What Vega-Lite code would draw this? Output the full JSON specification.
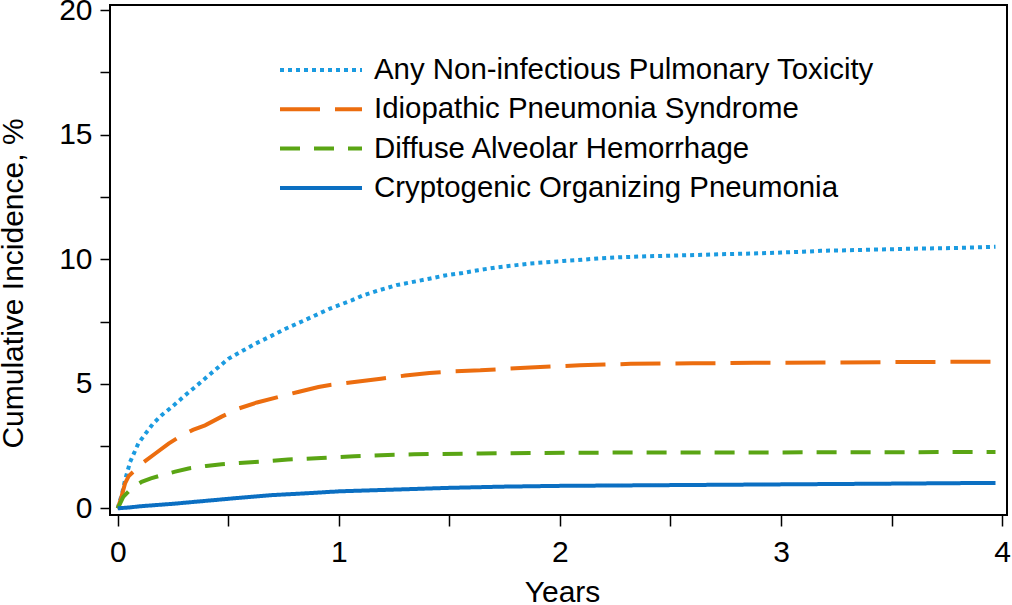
{
  "$schema": "https://vega.github.io/schema/vega-lite/v6.json",
  "width": 897,
  "height": 510,
  "autosize": {"type": "none"},
  "padding": {"left": 110, "top": 5, "right": 5, "bottom": 90},
  "background": "white",
  "config": {
    "font": "Liberation Sans",
    "view": {"stroke": "black", "strokeWidth": 2},
    "axis": {"grid": false, "domain": false, "tickColor": "black", "tickWidth": 1.5, "labelColor": "black", "titleColor": "black", "labelFontSize": 30, "titleFontSize": 30, "titleFontWeight": "normal", "labelFont": "Liberation Sans", "titleFont": "Liberation Sans"}
  },
  "data": {"values": [
    {"t":0,"v":0,"s":"Any Non-infectious Pulmonary Toxicity"},
    {"t":0.02,"v":0.6,"s":"Any Non-infectious Pulmonary Toxicity"},
    {"t":0.033,"v":1.13,"s":"Any Non-infectious Pulmonary Toxicity"},
    {"t":0.056,"v":1.86,"s":"Any Non-infectious Pulmonary Toxicity"},
    {"t":0.093,"v":2.6,"s":"Any Non-infectious Pulmonary Toxicity"},
    {"t":0.13,"v":3.05,"s":"Any Non-infectious Pulmonary Toxicity"},
    {"t":0.16,"v":3.4,"s":"Any Non-infectious Pulmonary Toxicity"},
    {"t":0.2,"v":3.75,"s":"Any Non-infectious Pulmonary Toxicity"},
    {"t":0.245,"v":4.07,"s":"Any Non-infectious Pulmonary Toxicity"},
    {"t":0.3,"v":4.5,"s":"Any Non-infectious Pulmonary Toxicity"},
    {"t":0.35,"v":4.87,"s":"Any Non-infectious Pulmonary Toxicity"},
    {"t":0.42,"v":5.4,"s":"Any Non-infectious Pulmonary Toxicity"},
    {"t":0.5,"v":6.0,"s":"Any Non-infectious Pulmonary Toxicity"},
    {"t":0.56,"v":6.3,"s":"Any Non-infectious Pulmonary Toxicity"},
    {"t":0.62,"v":6.6,"s":"Any Non-infectious Pulmonary Toxicity"},
    {"t":0.69,"v":6.9,"s":"Any Non-infectious Pulmonary Toxicity"},
    {"t":0.757,"v":7.2,"s":"Any Non-infectious Pulmonary Toxicity"},
    {"t":0.82,"v":7.45,"s":"Any Non-infectious Pulmonary Toxicity"},
    {"t":0.877,"v":7.68,"s":"Any Non-infectious Pulmonary Toxicity"},
    {"t":0.96,"v":8.02,"s":"Any Non-infectious Pulmonary Toxicity"},
    {"t":1.058,"v":8.35,"s":"Any Non-infectious Pulmonary Toxicity"},
    {"t":1.11,"v":8.55,"s":"Any Non-infectious Pulmonary Toxicity"},
    {"t":1.18,"v":8.75,"s":"Any Non-infectious Pulmonary Toxicity"},
    {"t":1.26,"v":8.96,"s":"Any Non-infectious Pulmonary Toxicity"},
    {"t":1.33,"v":9.08,"s":"Any Non-infectious Pulmonary Toxicity"},
    {"t":1.41,"v":9.22,"s":"Any Non-infectious Pulmonary Toxicity"},
    {"t":1.48,"v":9.35,"s":"Any Non-infectious Pulmonary Toxicity"},
    {"t":1.56,"v":9.45,"s":"Any Non-infectious Pulmonary Toxicity"},
    {"t":1.63,"v":9.56,"s":"Any Non-infectious Pulmonary Toxicity"},
    {"t":1.71,"v":9.67,"s":"Any Non-infectious Pulmonary Toxicity"},
    {"t":1.79,"v":9.75,"s":"Any Non-infectious Pulmonary Toxicity"},
    {"t":1.865,"v":9.83,"s":"Any Non-infectious Pulmonary Toxicity"},
    {"t":1.94,"v":9.88,"s":"Any Non-infectious Pulmonary Toxicity"},
    {"t":2.015,"v":9.93,"s":"Any Non-infectious Pulmonary Toxicity"},
    {"t":2.1,"v":9.98,"s":"Any Non-infectious Pulmonary Toxicity"},
    {"t":2.17,"v":10.03,"s":"Any Non-infectious Pulmonary Toxicity"},
    {"t":2.27,"v":10.08,"s":"Any Non-infectious Pulmonary Toxicity"},
    {"t":2.4,"v":10.12,"s":"Any Non-infectious Pulmonary Toxicity"},
    {"t":2.57,"v":10.16,"s":"Any Non-infectious Pulmonary Toxicity"},
    {"t":2.72,"v":10.2,"s":"Any Non-infectious Pulmonary Toxicity"},
    {"t":2.877,"v":10.23,"s":"Any Non-infectious Pulmonary Toxicity"},
    {"t":3.0,"v":10.27,"s":"Any Non-infectious Pulmonary Toxicity"},
    {"t":3.1,"v":10.3,"s":"Any Non-infectious Pulmonary Toxicity"},
    {"t":3.18,"v":10.34,"s":"Any Non-infectious Pulmonary Toxicity"},
    {"t":3.3,"v":10.36,"s":"Any Non-infectious Pulmonary Toxicity"},
    {"t":3.48,"v":10.4,"s":"Any Non-infectious Pulmonary Toxicity"},
    {"t":3.63,"v":10.43,"s":"Any Non-infectious Pulmonary Toxicity"},
    {"t":3.78,"v":10.45,"s":"Any Non-infectious Pulmonary Toxicity"},
    {"t":3.97,"v":10.5,"s":"Any Non-infectious Pulmonary Toxicity"},
    {"t":0,"v":0,"s":"Idiopathic Pneumonia Syndrome"},
    {"t":0.015,"v":0.4,"s":"Idiopathic Pneumonia Syndrome"},
    {"t":0.033,"v":1.0,"s":"Idiopathic Pneumonia Syndrome"},
    {"t":0.05,"v":1.3,"s":"Idiopathic Pneumonia Syndrome"},
    {"t":0.07,"v":1.46,"s":"Idiopathic Pneumonia Syndrome"},
    {"t":0.11,"v":1.8,"s":"Idiopathic Pneumonia Syndrome"},
    {"t":0.17,"v":2.2,"s":"Idiopathic Pneumonia Syndrome"},
    {"t":0.23,"v":2.6,"s":"Idiopathic Pneumonia Syndrome"},
    {"t":0.29,"v":2.93,"s":"Idiopathic Pneumonia Syndrome"},
    {"t":0.34,"v":3.15,"s":"Idiopathic Pneumonia Syndrome"},
    {"t":0.395,"v":3.33,"s":"Idiopathic Pneumonia Syndrome"},
    {"t":0.47,"v":3.68,"s":"Idiopathic Pneumonia Syndrome"},
    {"t":0.545,"v":4.0,"s":"Idiopathic Pneumonia Syndrome"},
    {"t":0.63,"v":4.25,"s":"Idiopathic Pneumonia Syndrome"},
    {"t":0.727,"v":4.47,"s":"Idiopathic Pneumonia Syndrome"},
    {"t":0.82,"v":4.68,"s":"Idiopathic Pneumonia Syndrome"},
    {"t":0.908,"v":4.87,"s":"Idiopathic Pneumonia Syndrome"},
    {"t":0.96,"v":4.95,"s":"Idiopathic Pneumonia Syndrome"},
    {"t":1.07,"v":5.07,"s":"Idiopathic Pneumonia Syndrome"},
    {"t":1.19,"v":5.2,"s":"Idiopathic Pneumonia Syndrome"},
    {"t":1.3,"v":5.33,"s":"Idiopathic Pneumonia Syndrome"},
    {"t":1.41,"v":5.43,"s":"Idiopathic Pneumonia Syndrome"},
    {"t":1.52,"v":5.5,"s":"Idiopathic Pneumonia Syndrome"},
    {"t":1.64,"v":5.54,"s":"Idiopathic Pneumonia Syndrome"},
    {"t":1.75,"v":5.6,"s":"Idiopathic Pneumonia Syndrome"},
    {"t":1.865,"v":5.65,"s":"Idiopathic Pneumonia Syndrome"},
    {"t":1.98,"v":5.7,"s":"Idiopathic Pneumonia Syndrome"},
    {"t":2.09,"v":5.74,"s":"Idiopathic Pneumonia Syndrome"},
    {"t":2.2,"v":5.77,"s":"Idiopathic Pneumonia Syndrome"},
    {"t":2.32,"v":5.8,"s":"Idiopathic Pneumonia Syndrome"},
    {"t":2.6,"v":5.82,"s":"Idiopathic Pneumonia Syndrome"},
    {"t":2.877,"v":5.84,"s":"Idiopathic Pneumonia Syndrome"},
    {"t":3.2,"v":5.85,"s":"Idiopathic Pneumonia Syndrome"},
    {"t":3.5,"v":5.87,"s":"Idiopathic Pneumonia Syndrome"},
    {"t":3.75,"v":5.88,"s":"Idiopathic Pneumonia Syndrome"},
    {"t":3.97,"v":5.89,"s":"Idiopathic Pneumonia Syndrome"},
    {"t":0,"v":0,"s":"Diffuse Alveolar Hemorrhage"},
    {"t":0.025,"v":0.46,"s":"Diffuse Alveolar Hemorrhage"},
    {"t":0.063,"v":0.8,"s":"Diffuse Alveolar Hemorrhage"},
    {"t":0.108,"v":1.06,"s":"Diffuse Alveolar Hemorrhage"},
    {"t":0.15,"v":1.2,"s":"Diffuse Alveolar Hemorrhage"},
    {"t":0.2,"v":1.33,"s":"Diffuse Alveolar Hemorrhage"},
    {"t":0.26,"v":1.47,"s":"Diffuse Alveolar Hemorrhage"},
    {"t":0.32,"v":1.6,"s":"Diffuse Alveolar Hemorrhage"},
    {"t":0.4,"v":1.7,"s":"Diffuse Alveolar Hemorrhage"},
    {"t":0.47,"v":1.77,"s":"Diffuse Alveolar Hemorrhage"},
    {"t":0.55,"v":1.82,"s":"Diffuse Alveolar Hemorrhage"},
    {"t":0.62,"v":1.86,"s":"Diffuse Alveolar Hemorrhage"},
    {"t":0.7,"v":1.91,"s":"Diffuse Alveolar Hemorrhage"},
    {"t":0.77,"v":1.96,"s":"Diffuse Alveolar Hemorrhage"},
    {"t":0.85,"v":1.99,"s":"Diffuse Alveolar Hemorrhage"},
    {"t":0.92,"v":2.02,"s":"Diffuse Alveolar Hemorrhage"},
    {"t":1.0,"v":2.06,"s":"Diffuse Alveolar Hemorrhage"},
    {"t":1.07,"v":2.09,"s":"Diffuse Alveolar Hemorrhage"},
    {"t":1.19,"v":2.13,"s":"Diffuse Alveolar Hemorrhage"},
    {"t":1.34,"v":2.17,"s":"Diffuse Alveolar Hemorrhage"},
    {"t":1.64,"v":2.2,"s":"Diffuse Alveolar Hemorrhage"},
    {"t":1.865,"v":2.22,"s":"Diffuse Alveolar Hemorrhage"},
    {"t":2.32,"v":2.24,"s":"Diffuse Alveolar Hemorrhage"},
    {"t":2.8,"v":2.24,"s":"Diffuse Alveolar Hemorrhage"},
    {"t":3.3,"v":2.25,"s":"Diffuse Alveolar Hemorrhage"},
    {"t":3.97,"v":2.26,"s":"Diffuse Alveolar Hemorrhage"},
    {"t":0,"v":0,"s":"Cryptogenic Organizing Pneumonia"},
    {"t":0.05,"v":0.03,"s":"Cryptogenic Organizing Pneumonia"},
    {"t":0.1,"v":0.08,"s":"Cryptogenic Organizing Pneumonia"},
    {"t":0.25,"v":0.18,"s":"Cryptogenic Organizing Pneumonia"},
    {"t":0.4,"v":0.3,"s":"Cryptogenic Organizing Pneumonia"},
    {"t":0.55,"v":0.42,"s":"Cryptogenic Organizing Pneumonia"},
    {"t":0.7,"v":0.53,"s":"Cryptogenic Organizing Pneumonia"},
    {"t":0.85,"v":0.6,"s":"Cryptogenic Organizing Pneumonia"},
    {"t":1.0,"v":0.68,"s":"Cryptogenic Organizing Pneumonia"},
    {"t":1.25,"v":0.75,"s":"Cryptogenic Organizing Pneumonia"},
    {"t":1.5,"v":0.82,"s":"Cryptogenic Organizing Pneumonia"},
    {"t":1.75,"v":0.87,"s":"Cryptogenic Organizing Pneumonia"},
    {"t":2.0,"v":0.9,"s":"Cryptogenic Organizing Pneumonia"},
    {"t":2.5,"v":0.93,"s":"Cryptogenic Organizing Pneumonia"},
    {"t":3.0,"v":0.96,"s":"Cryptogenic Organizing Pneumonia"},
    {"t":3.5,"v":0.99,"s":"Cryptogenic Organizing Pneumonia"},
    {"t":3.97,"v":1.02,"s":"Cryptogenic Organizing Pneumonia"}
  ]},
  "mark": {"type": "line", "strokeWidth": 4, "strokeCap": "butt", "clip": true},
  "encoding": {
    "x": {"field": "t", "type": "quantitative",
      "scale": {"domain": [-0.035, 4.022], "nice": false, "zero": false},
      "axis": {"title": "Years", "values": [0,0.5,1,1.5,2,2.5,3,3.5,4], "labelExpr": "datum.value % 1 === 0 ? format(datum.value, 'd') : ''", "tickSize": 11, "labelPadding": 11, "labelFlush": false, "titleX": 452, "titleY": 77, "titleBaseline": "middle", "titleAlign": "center"}},
    "y": {"field": "v", "type": "quantitative",
      "scale": {"domain": [-0.27, 20.21], "nice": false, "zero": false},
      "axis": {"title": "Cumulative Incidence, %", "values": [0,2.5,5,7.5,10,12.5,15,17.5,20], "labelExpr": "datum.value % 5 === 0 ? format(datum.value, 'd') : ''", "tickSize": 10, "labelPadding": 8, "labelFlush": false, "titleX": -97, "titleY": 278, "titleBaseline": "middle", "titleAlign": "center", "titleAngle": -90}},
    "color": {"field": "s", "type": "nominal",
      "scale": {"domain": ["Any Non-infectious Pulmonary Toxicity", "Idiopathic Pneumonia Syndrome", "Diffuse Alveolar Hemorrhage", "Cryptogenic Organizing Pneumonia"],
        "range": ["#1b9be0", "#ec6d0f", "#5aa514", "#0b6fc2"]},
      "legend": {"title": null, "orient": "none", "legendX": 168, "legendY": 50, "symbolType": "stroke", "symbolSize": 6724, "symbolStrokeWidth": 4, "labelFontSize": 29.4, "labelColor": "black", "labelOffset": 10, "clipHeight": 30, "rowPadding": 9.3, "padding": 0, "labelLimit": 800}},
    "strokeDash": {"field": "s", "type": "nominal",
      "scale": {"domain": ["Any Non-infectious Pulmonary Toxicity", "Idiopathic Pneumonia Syndrome", "Diffuse Alveolar Hemorrhage", "Cryptogenic Organizing Pneumonia"],
        "range": [[4,4],[40,15],[20,14],[1,0]]},
      "legend": {"title": null, "orient": "none", "legendX": 168, "legendY": 50, "symbolType": "stroke", "symbolSize": 6724, "symbolStrokeWidth": 4, "labelFontSize": 29.4, "labelColor": "black", "labelOffset": 10, "clipHeight": 30, "rowPadding": 9.3, "padding": 0, "labelLimit": 800}}
  }
}
